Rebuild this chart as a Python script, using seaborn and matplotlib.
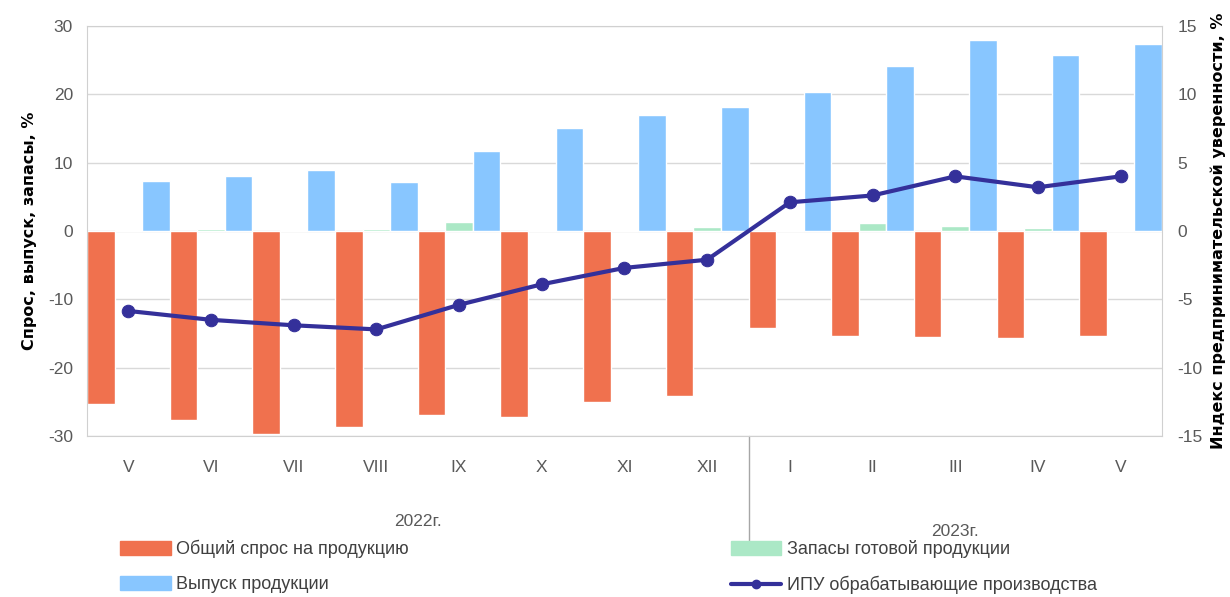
import numpy as np
import pandas as pd
import seaborn as sns
import matplotlib.pyplot as plt
from matplotlib.patches import Patch
from matplotlib.lines import Line2D
from matplotlib import transforms

months = ['2022-05', '2022-06', '2022-07', '2022-08', '2022-09', '2022-10', '2022-11',
          '2022-12', '2023-01', '2023-02', '2023-03', '2023-04', '2023-05']
month_labels = ['V', 'VI', 'VII', 'VIII', 'IX', 'X', 'XI', 'XII', 'I', 'II', 'III', 'IV', 'V']
demand = [-25.3, -27.7, -29.7, -28.7, -26.9, -27.2, -25.0, -24.2, -14.2, -15.4, -15.5, -15.6, -15.4]
stocks = [0.1, 0.3, 0.1, 0.3, 1.3, 0.1, 0.1, 0.6, 0.1, 1.1, 0.7, 0.5, 0.1]
output = [7.3, 8.1, 9.0, 7.2, 11.7, 15.1, 17.0, 18.1, 20.4, 24.2, 28.0, 25.8, 27.4]
ipu = [-5.85, -6.5, -6.9, -7.2, -5.4, -3.9, -2.7, -2.1, 2.1, 2.6, 4.0, 3.2, 4.0]

names = ['Общий спрос на продукцию', 'Запасы готовой продукции', 'Выпуск продукции']
line_name = 'ИПУ обрабатывающие производства'
colors = ['#F0714E', '#ABE8C6', '#88C6FF']
line_color = '#34309A'
grey = '#595959'

df = pd.DataFrame({'month': months * 3,
                   'series': np.repeat(names, len(months)),
                   'value': demand + stocks + output})

sns.set_style('white')
plt.rcParams['font.family'] = ['Liberation Sans', 'DejaVu Sans']
plt.rcParams['axes.unicode_minus'] = False

fig = plt.figure(figsize=(12.3, 5.97), dpi=100)
ax = fig.add_axes([0.0707, 0.2697, 0.8740, 0.6867])

sns.barplot(data=df, x='month', y='value', hue='series', order=months, hue_order=names,
            palette=colors, width=1.0, gap=0, dodge=True, ax=ax, legend=False, saturation=1)
ax.set_ylim(-30, 30)
ax.set_yticks(range(-30, 31, 10))
ax.set_xlim(-0.5, len(months) - 0.5)
ax.set_xticks(range(len(months)))
ax.set_xticklabels(month_labels)
ax.yaxis.grid(True, color='#D9D9D9', linewidth=1)
ax.set_axisbelow(True)
ax.set_xlabel('')
ax.set_ylabel('Спрос, выпуск, запасы, %', fontsize=11.5, fontweight='bold', color='#000000',
              labelpad=8, family=['DejaVu Sans'])
ax.tick_params(axis='both', length=0, labelsize=12.5, labelcolor=grey)
ax.tick_params(axis='x', pad=17)
ax.tick_params(axis='y', pad=10)
for sp in ax.spines.values():
    sp.set_color('#D0D0D0')

ax2 = ax.twinx()
sns.lineplot(x=np.arange(len(ipu)), y=ipu, ax=ax2, color=line_color, linewidth=3,
             marker='o', markersize=9, markeredgecolor=line_color)
ax2.set_ylim(-15, 15)
ax2.set_yticks(range(-15, 16, 5))
ax2.tick_params(axis='y', length=0, labelsize=12.5, labelcolor=grey, pad=11)
ax2.set_ylabel('Индекс предпринимательской уверенности, %', fontsize=11.5,
               fontweight='bold', color='#000000', labelpad=6, family=['DejaVu Sans'])
for sp in ax2.spines.values():
    sp.set_visible(False)

# year separator and labels
tr = transforms.blended_transform_factory(ax.transData, ax.transAxes)
ax.plot([7.5, 7.5], [0, -0.266], transform=tr, color='#A6A6A6', linewidth=1, clip_on=False)
ax.text(3.5, -0.208, '2022г.', transform=tr, ha='center', va='center', fontsize=12.5, color=grey)
ax.text(10, -0.234, '2023г.', transform=tr, ha='center', va='center', fontsize=12.5, color=grey)

handles = [Patch(color=colors[0]), Patch(color=colors[2]),
           Patch(color=colors[1]), Line2D([], [], color=line_color, linewidth=3,
                                          marker='o', markersize=6)]
labels = [names[0], names[2], names[1], line_name]
leg = fig.legend(handles, labels, loc='upper left', bbox_to_anchor=(0.0976, 0.096), ncol=2,
                 frameon=False, fontsize=13, handlelength=2.8, handleheight=0.8,
                 handletextpad=0.3, columnspacing=17.85, labelspacing=1.0, borderaxespad=0,
                 borderpad=0)
for t in leg.get_texts():
    t.set_color('#404040')

fig.savefig('out.png', dpi=100)
